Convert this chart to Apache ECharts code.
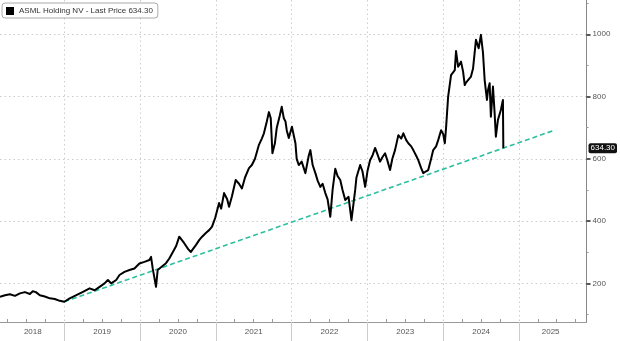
<!DOCTYPE html>
<html>
<head>
<meta charset="utf-8">
<script src="https://cdn.jsdelivr.net/npm/echarts@6/dist/echarts.min.js"></script>
<style>
html,body{margin:0;padding:0;background:#fff;}
#chart{width:620px;height:341px;}
</style>
</head>
<body>
<div id="chart"></div>
<script>
const seriesName = 'ASML Holding NV - Last Price 634.30';
const lastPrice = 634.30;

const dates = [
 '2018-02-25','2018-03-21','2018-04-14','2018-05-08','2018-06-01','2018-06-25','2018-07-19','2018-08-02','2018-08-17','2018-09-05','2018-09-29','2018-10-23','2018-11-16','2018-12-10',
 '2019-01-01','2019-01-27','2019-02-28','2019-04-01','2019-05-03','2019-05-27','2019-06-20','2019-07-14','2019-07-30','2019-08-15','2019-09-08','2019-09-24','2019-10-18','2019-11-11','2019-12-05','2019-12-29',
 '2020-01-22','2020-02-15','2020-02-23','2020-03-02','2020-03-18','2020-03-26','2020-04-03','2020-04-17','2020-05-05','2020-05-21','2020-06-04','2020-06-23','2020-07-08','2020-08-01','2020-08-20','2020-09-02','2020-09-26','2020-10-12','2020-10-26','2020-11-13','2020-11-29','2020-12-13','2020-12-28',
 '2021-01-16','2021-01-26','2021-02-09','2021-02-24','2021-03-05','2021-03-19','2021-04-06','2021-04-22','2021-05-06','2021-05-21','2021-06-09','2021-06-23','2021-07-08','2021-07-27','2021-08-10','2021-08-20','2021-09-03','2021-09-13','2021-09-22','2021-09-30','2021-10-12','2021-10-21','2021-11-05','2021-11-14','2021-11-24','2021-12-02','2021-12-08','2021-12-18',
 '2022-01-02','2022-01-19','2022-01-25','2022-02-04','2022-02-18','2022-03-08','2022-03-24','2022-04-01','2022-04-12','2022-04-25','2022-05-06','2022-05-19','2022-05-30','2022-06-12','2022-06-23','2022-07-06','2022-07-17','2022-07-30','2022-08-10','2022-08-23','2022-09-03','2022-09-16','2022-10-02','2022-10-16','2022-11-03','2022-11-09','2022-11-27','2022-12-08','2022-12-21',
 '2023-01-01','2023-01-14','2023-01-25','2023-02-07','2023-02-18','2023-03-03','2023-03-14','2023-03-27','2023-04-07','2023-04-20','2023-05-01','2023-05-14','2023-05-30','2023-06-13','2023-06-23','2023-07-07','2023-07-17','2023-07-31','2023-08-10','2023-08-24','2023-09-03','2023-09-17','2023-09-27','2023-10-11','2023-10-21','2023-11-04','2023-11-14','2023-11-28','2023-12-08','2023-12-22',
 '2024-01-01','2024-01-09','2024-01-15','2024-01-25','2024-02-08','2024-02-26','2024-03-03','2024-03-13','2024-03-27','2024-04-06','2024-04-14','2024-04-20','2024-04-30','2024-05-14','2024-05-24','2024-06-07','2024-06-20','2024-07-01','2024-07-11','2024-07-19','2024-07-30','2024-08-04','2024-08-12','2024-08-18','2024-08-28','2024-09-05','2024-09-11','2024-09-21','2024-10-05','2024-10-15','2024-10-17'
];
const prices = [
 157,162,165,160,168,172,166,175,172,162,158,152,150,144,
 141,152,162,173,184,178,189,200,211,200,211,227,237,243,248,264,
 269,275,285,248,189,243,237,255,265,280,297,320,350,329,310,301,323,339,350,362,371,382,410,
 458,440,490,470,446,480,532,520,505,540,570,580,600,645,665,682,720,750,730,618,650,700,740,767,730,720,692,667,
 703,650,600,580,591,554,610,628,580,554,530,510,520,490,470,414,500,568,545,532,500,468,478,403,500,540,580,560,510,
 560,596,610,635,615,591,605,618,595,564,600,628,676,665,682,660,650,640,628,610,596,570,554,560,564,600,628,640,660,692,
 680,650,700,800,869,885,946,896,912,880,837,845,853,864,890,982,955,998,940,853,789,820,843,735,832,747,671,725,757,789,634.30
];

const trendDates = ['2019-01-01','2025-06-21'];
const trendValues = [141, 692];

const yearLabels = ['2018','2019','2020','2021','2022','2023','2024','2025'];
const yearLabelDates = ['2018-08-02','2019-07-02','2020-07-02','2021-07-02','2022-07-02','2023-07-02','2024-07-02','2025-06-02'];
const yearStartDates = ['2019-01-01','2020-01-01','2021-01-01','2022-01-01','2023-01-01','2024-01-01','2025-01-01'];
const quarterTickDates = [
 '2018-04-01','2018-07-01','2018-10-01',
 '2019-04-01','2019-07-01','2019-10-01',
 '2020-04-01','2020-07-01','2020-10-01',
 '2021-04-01','2021-07-01','2021-10-01',
 '2022-04-01','2022-07-01','2022-10-01',
 '2023-04-01','2023-07-01','2023-10-01',
 '2024-04-01','2024-07-01','2024-10-01',
 '2025-04-01','2025-07-01','2025-10-01'
];
const xMin = '2018-02-25';
const xMax = '2025-11-22';
const yMin = 76;
const yMax = 1110;
const yTicks = [200,400,600,800,1000];
const yMinorTicks = [100,300,500,700,900,1100];

function ts(s){ const p = s.split('-').map(Number); return Date.UTC(p[0], p[1]-1, p[2]); }

const labelTs = yearLabelDates.map(ts);
const font = 'Liberation Sans';

const chart = echarts.init(document.getElementById('chart'), null, {renderer:'canvas'});
chart.setOption({
  animation: false,
  backgroundColor: '#fff',
  textStyle: {fontFamily: font},
  legend: {
    data: [seriesName],
    left: 2, top: 3,
    padding: [4, 5, 3, 4],
    itemWidth: 8, itemHeight: 8,
    icon: 'rect',
    borderColor: '#aaa', borderWidth: 1, borderRadius: 3,
    backgroundColor: '#fff',
    itemGap: 4,
    textStyle: {fontSize: 8, color: '#333', fontFamily: font}
  },
  grid: {left: 0, right: 31, top: 0, bottom: 19, containLabel: false},
  xAxis: [{
    type: 'value',
    min: ts(xMin), max: ts(xMax),
    axisLine: {show: true, lineStyle: {color: '#999', width: 1}},
    axisTick: {show: true, customValues: yearStartDates.map(ts), length: 19, inside: false, lineStyle: {color: '#ccc', width: 1}},
    axisLabel: {
      customValues: labelTs,
      fontSize: 8, color: '#555', margin: 6, fontFamily: font,
      formatter: function (v) { const i = labelTs.indexOf(v); return i >= 0 ? yearLabels[i] : ''; }
    },
    splitLine: {show: true, lineStyle: {color: '#ccc', type: [1.5, 3], width: 1}}
  }, {
    type: 'value',
    min: ts(xMin), max: ts(xMax),
    position: 'bottom',
    axisLine: {show: false},
    axisTick: {show: true, customValues: quarterTickDates.map(ts), length: 3, inside: true, lineStyle: {color: '#999', width: 1}},
    axisLabel: {show: false},
    splitLine: {show: false}
  }],
  yAxis: [{
    type: 'value',
    position: 'right',
    min: yMin, max: yMax,
    axisLine: {show: true, lineStyle: {color: '#888', width: 1}},
    axisTick: {show: true, customValues: yTicks, length: 4, inside: false, lineStyle: {color: '#222', width: 1.5}},
    axisLabel: {customValues: yTicks, fontSize: 8, color: '#555', margin: 6, fontFamily: font,
      formatter: function (v) { return String(v); }},
    splitLine: {show: true, lineStyle: {color: '#ccc', type: [1.5, 3], width: 1}}
  }, {
    type: 'value',
    position: 'right',
    min: yMin, max: yMax,
    axisLine: {show: false},
    axisTick: {show: true, customValues: yMinorTicks, length: 2, inside: false, lineStyle: {color: '#999', width: 1}},
    axisLabel: {
      customValues: [lastPrice], margin: 2,
      fontSize: 8, color: '#fff', fontFamily: font,
      backgroundColor: '#111', borderRadius: 2, padding: [1, 2, 1, 2],
      formatter: function (v) { return v.toFixed(2); }
    },
    splitLine: {show: false}
  }],
  series: [{
    name: seriesName,
    type: 'line',
    xAxisIndex: 0, yAxisIndex: 0,
    data: dates.map(function (d, i) { return [ts(d), prices[i]]; }),
    showSymbol: false,
    color: '#000',
    lineStyle: {color: '#000', width: 2, join: 'round'},
    z: 3
  }, {
    name: 'Trend',
    type: 'line',
    xAxisIndex: 0, yAxisIndex: 0,
    data: trendDates.map(function (d, i) { return [ts(d), trendValues[i]]; }),
    showSymbol: false,
    lineStyle: {color: '#2bbf9f', width: 1.6, type: [5, 3]},
    z: 2
  }]
});
</script>
</body>
</html>
